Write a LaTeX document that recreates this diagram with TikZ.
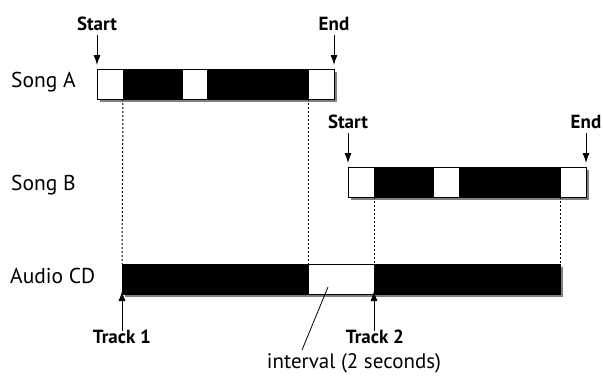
\documentclass[tikz,border=0pt]{standalone}
\usepackage{fontspec}
\setmainfont{PT Sans}
\usetikzlibrary{arrows.meta}
\begin{document}
\begin{tikzpicture}[x=1pt,y=-1pt,
  seg/.style={draw=black, line width=0.8pt, inner sep=0pt, outer sep=0pt, minimum height=30pt, anchor=north west},
  wseg/.style={seg, fill=white},
  bseg/.style={seg, fill=black},
  shadowbox/.style={fill=black!50, draw=none},
  lbl/.style={font=\fontsize{21.5}{24}\selectfont, anchor=base west, inner sep=0pt},
  tagtext/.style={font=\fontsize{19}{22}\selectfont\bfseries, anchor=base, inner sep=0pt},
  arr/.style={line width=0.9pt, -{Latex[length=10pt,width=7pt]}},
  guide/.style={line width=1pt, dash pattern=on 2pt off 2pt}]
\useasboundingbox (0,0) rectangle (603,376);
% shadows
\fill[shadowbox] (100,72) rectangle (337,102);
\fill[shadowbox] (351,170) rectangle (589,200);
\fill[shadowbox] (125,267) rectangle (563,297);
% Song A
\node[wseg, minimum width=26pt] (a1) at (97,69) {};
\node[bseg, minimum width=59pt] (a2) at (123,69) {};
\node[wseg, minimum width=25pt] (a3) at (182,69) {};
\node[bseg, minimum width=101pt] (a4) at (207,69) {};
\node[wseg, minimum width=26pt] (a5) at (308,69) {};
% Song B
\node[wseg, minimum width=26pt] (b1) at (348,167) {};
\node[bseg, minimum width=59pt] (b2) at (374,167) {};
\node[wseg, minimum width=26pt] (b3) at (433,167) {};
\node[bseg, minimum width=101pt] (b4) at (459,167) {};
\node[wseg, minimum width=26pt] (b5) at (560,167) {};
% Audio CD
\node[bseg, minimum width=186pt] (c1) at (122,264) {};
\node[wseg, minimum width=66pt] (c2) at (308,264) {};
\node[bseg, minimum width=186pt] (c3) at (374,264) {};
% row labels
\node[lbl] (la) at (11,87) {Song A};
\node[lbl] (lb) at (11,190) {Song B};
\node[lbl] (lc) at (10,283) {Audio CD};
% markers
\node[tagtext] (sa) at (97,30) {Start};
\node[tagtext] (ea) at (334,30) {End};
\node[tagtext] (sb) at (348,128) {Start};
\node[tagtext] (eb) at (586,128) {End};
\node[tagtext] (t1) at (122,343) {Track 1};
\node[tagtext] (t2) at (375,343) {Track 2};
\node[font=\fontsize{21}{24}\selectfont, anchor=base, inner sep=0pt] (iv) at (354,368) {interval (2 seconds)};
% arrow tails
\coordinate (saT) at (97,35);
\coordinate (eaT) at (334,35);
\coordinate (sbT) at (348,133);
\coordinate (ebT) at (586,133);
\coordinate (t1T) at (122,331);
\coordinate (t2T) at (374,331);
% arrows
\draw[arr, shorten >=4pt] (saT) -- (a1.north west);
\draw[arr, shorten >=4pt] (eaT) -- (a5.north east);
\draw[arr, shorten >=4pt] (sbT) -- (b1.north west);
\draw[arr, shorten >=4pt] (ebT) -- (b5.north east);
\draw[arr, shorten >=-3pt] (t1T) -- (c1.south west);
\draw[arr, shorten >=-3pt] (t2T) -- (c3.south west);
% guides
\draw[guide] (a2.south west) -- (c1.north west);
\draw[guide] (a4.south east) -- (c2.north west);
\draw[guide] (b2.south west) -- (c3.north west);
\draw[guide] (b4.south east) -- (c3.north east);
% interval leader
\coordinate (ivtop) at (328,287);
\coordinate (ivbot) at (302,350);
\draw[line width=0.8pt] (ivtop) -- (ivbot);
\end{tikzpicture}
\end{document}
